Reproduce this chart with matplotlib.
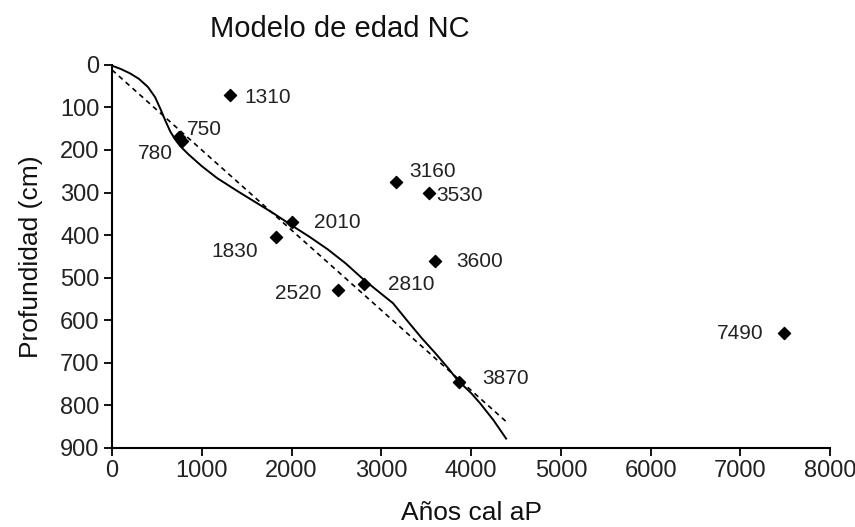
import numpy as np
import matplotlib.pyplot as plt

plt.rcParams['font.family'] = ['Liberation Sans', 'DejaVu Sans']

# dated samples: calibrated age (years cal BP) vs depth (cm)
ages = [1310, 750, 780, 3160, 3530, 2010, 1830, 3600, 2810, 2520, 3870, 7490]
depths = [70, 170, 180, 275, 300, 370, 405, 460, 515, 530, 745, 630]
labels = ['1310', '750', '780', '3160', '3530', '2010', '1830', '3600',
          '2810', '2520', '3870', '7490']

# age-depth model (solid curve)
model_age = [0, 100, 200, 300, 400, 480, 540, 600, 650, 700, 760, 850,
             1000, 1170, 1400, 1600, 1800, 2000, 2200, 2400, 2600, 2800,
             3000, 3130, 3300, 3450, 3600, 3750, 3850, 4000, 4100, 4250, 4390]
model_depth = [2, 10, 20, 33, 52, 76, 104, 134, 157, 174, 191, 210,
               238, 266, 297, 323, 349, 377, 404, 433, 466, 504,
               538, 560, 604, 642, 677, 714, 741, 771, 795, 835, 878]

# linear fit (dashed)
lin_age = [0, 4390]
lin_depth = [12, 838]

# label offsets in pixels (dx, dy, ha)
offsets = [(15, -3, 'left'), (8, 8, 'left'), (-9, -12, 'right'),
           (14, 10, 'left'), (7, -3, 'left'), (22, 0, 'left'),
           (-18, -14, 'right'), (21, -1, 'left'), (24, 0, 'left'),
           (-17, -3, 'right'), (23, 3, 'left'), (-21, 0, 'right')]

fig = plt.figure(figsize=(8.55, 5.27), dpi=100)
ax = fig.add_axes([0.131, 0.150, 0.840, 0.727])

ax.plot(model_age, model_depth, color='black', linewidth=1.4)
ax.plot(lin_age, lin_depth, color='black', linewidth=1.2, linestyle=(0, (3, 2.5)))
ax.scatter(ages, depths, marker='D', s=38, color='black', zorder=5)

for a, d, lab, (dx, dy, ha) in zip(ages, depths, labels, offsets):
    ax.annotate(lab, (a, d), xytext=(dx, dy), textcoords='offset pixels',
                ha=ha, va='center', fontsize=15, color='#222222')

ax.set_xlim(0, 8000)
ax.set_ylim(900, 0)
ax.set_xticks(np.arange(0, 8001, 1000))
ax.set_yticks(np.arange(0, 901, 100))
ax.tick_params(direction='out', length=6, width=1.3, labelsize=17, colors='black',
               labelcolor='#222222', pad=3)
for s in ['top', 'right']:
    ax.spines[s].set_visible(False)
for s in ['left', 'bottom']:
    ax.spines[s].set_linewidth(1.5)

ax.set_xlabel('Años cal aP', fontsize=19, labelpad=13, color='#111111')
ax.set_ylabel('Profundidad (cm)', fontsize=19, labelpad=12, color='#111111')
fig.text(0.398, 0.945, 'Modelo de edad NC', fontsize=21, ha='center', va='center',
         color='#111111')

fig.savefig('out.png', dpi=100)
